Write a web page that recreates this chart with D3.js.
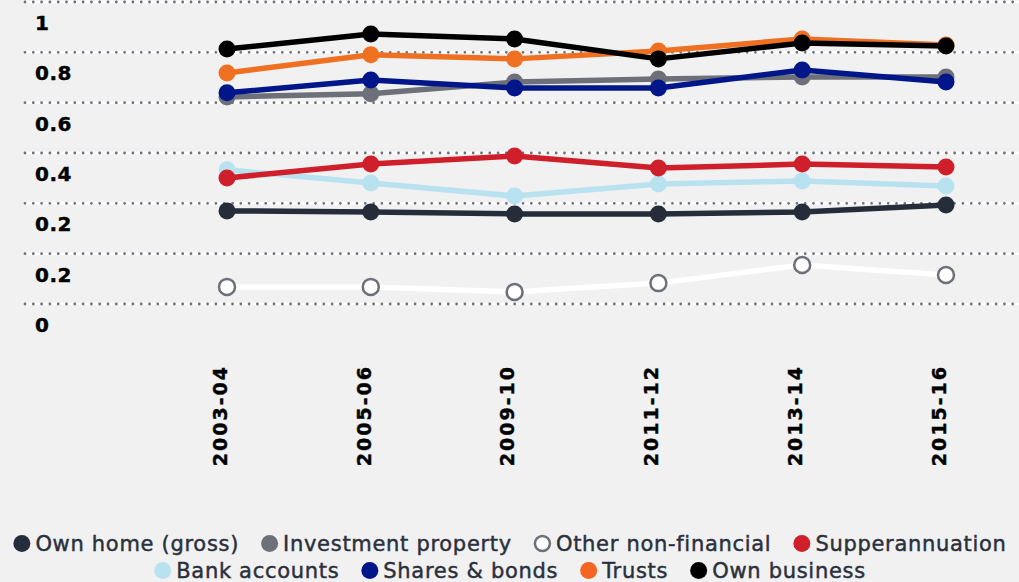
<!DOCTYPE html>
<html>
<head>
<meta charset="utf-8">
<script src="https://cdn.jsdelivr.net/npm/d3@7"></script>
<style>
  html, body { margin: 0; padding: 0; background: #f1f1f1; }
  svg { display: block; }
</style>
</head>
<body>
<script>
// periods on the x axis
var periods = ["2003-04", "2005-06", "2009-10", "2011-12", "2013-14", "2015-16"];

// gridline values and the labels printed under them (as in the original)
var gridValues = [0, 0.2, 0.4, 0.6, 0.8, 1.0, 1.2];
var gridLabels = ["0", "0.2", "0.2", "0.4", "0.6", "0.8", "1"];

// series values
var ownHome      = [0.370, 0.366, 0.358, 0.358, 0.366, 0.393];
var investProp   = [0.823, 0.835, 0.882, 0.894, 0.902, 0.902];
var otherNonFin  = [0.068, 0.068, 0.048, 0.083, 0.155, 0.115];
var superann     = [0.501, 0.556, 0.588, 0.540, 0.556, 0.544];
var bankAccounts = [0.533, 0.481, 0.429, 0.477, 0.489, 0.469];
var sharesBonds  = [0.839, 0.890, 0.858, 0.858, 0.930, 0.882];
var trusts       = [0.918, 0.990, 0.974, 1.005, 1.053, 1.029];
var ownBusiness  = [1.013, 1.073, 1.053, 0.974, 1.037, 1.025];

var series = [
  {name: "Own home (gross)",     values: ownHome,      color: "#252d3a"},
  {name: "Investment property",  values: investProp,   color: "#6d7079"},
  {name: "Other non-financial",  values: otherNonFin,  color: "#ffffff", hollow: true},
  {name: "Supperannuation",      values: superann,     color: "#cf1f2b"},
  {name: "Bank accounts",        values: bankAccounts, color: "#b8e2f0"},
  {name: "Shares & bonds",       values: sharesBonds,  color: "#001689"},
  {name: "Trusts",               values: trusts,       color: "#f07022"},
  {name: "Own business",         values: ownBusiness,  color: "#000000"}
];
// order the lines are painted in (later on top)
var drawOrder = ["Other non-financial", "Own home (gross)", "Bank accounts", "Supperannuation",
                 "Investment property", "Shares & bonds", "Trusts", "Own business"];

var W = 1019, H = 582;

var svg = d3.select("body").append("svg")
    .attr("width", W)
    .attr("height", H);

svg.append("rect").attr("width", W).attr("height", H).attr("fill", "#f1f1f1");

var x = d3.scalePoint().domain(periods).range([227, 946]);
var y = d3.scaleLinear().domain([0, 1.2]).range([304, 2]);

// dotted gridlines
var grid = svg.append("g").attr("class", "grid");
grid.selectAll(".gw").data(gridValues).enter().append("line")
    .attr("x1", 24).attr("x2", W)
    .attr("y1", d => y(d)).attr("y2", d => y(d))
    .attr("stroke", "#ffffff").attr("stroke-width", 2.5);
grid.selectAll(".gd").data(gridValues).enter().append("line")
    .attr("x1", 25).attr("x2", W)
    .attr("y1", d => y(d)).attr("y2", d => y(d))
    .attr("stroke", "#6d7079").attr("stroke-width", 2.8)
    .attr("stroke-linecap", "round")
    .attr("stroke-dasharray", "0 8.3");

// y labels sit under each gridline
svg.append("g").selectAll("text").data(gridValues).enter().append("text")
    .attr("x", 35)
    .attr("y", d => y(d) + 28)
    .attr("font-family", "DejaVu Sans")
    .attr("font-weight", "bold")
    .attr("font-size", 20)
    .attr("letter-spacing", 0.5)
    .attr("fill", "#000")
    .attr("stroke", "#000").attr("stroke-width", 0.4)
    .text((d, i) => gridLabels[i]);

// x labels, rotated
svg.append("g").selectAll("text").data(periods).enter().append("text")
    .attr("transform", d => "translate(" + (x(d) - 7) + ",365) rotate(-90)")
    .attr("text-anchor", "end")
    .attr("dy", "0.36em")
    .attr("font-family", "DejaVu Sans")
    .attr("font-weight", "bold")
    .attr("font-size", 19)
    .attr("letter-spacing", 2)
    .attr("fill", "#000")
    .attr("stroke", "#000").attr("stroke-width", 0.4)
    .text(d => d);

var line = d3.line()
    .x((d, i) => x(periods[i]))
    .y(d => y(d));

var byName = {};
series.forEach(s => byName[s.name] = s);

var lines = svg.append("g").selectAll("g")
    .data(drawOrder.map(n => byName[n]))
  .enter().append("g");

lines.append("path")
    .attr("d", s => line(s.values))
    .attr("fill", "none")
    .attr("stroke", s => s.color)
    .attr("stroke-width", 5.5)
    .attr("stroke-linejoin", "round");

lines.selectAll("circle")
    .data(s => s.values.map(v => ({v: v, s: s})))
  .enter().append("circle")
    .attr("cx", (d, i) => x(periods[i]))
    .attr("cy", d => y(d.v))
    .attr("r", d => d.s.hollow ? 8 : 8.5)
    .attr("fill", d => d.s.color)
    .attr("stroke", d => d.s.hollow ? "#6d7079" : "none")
    .attr("stroke-width", 2.5);

// legend, two centred rows
var legendRows = [series.slice(0, 4), series.slice(4)];
var rowY = [551, 578];
var centerX = 510;

legendRows.forEach(function(row, r) {
  var g = svg.append("g");
  var cursor = 0;
  row.forEach(function(s) {
    var item = g.append("g").attr("transform", "translate(" + cursor + ",0)");
    item.append("circle")
        .attr("cx", 8.5).attr("cy", rowY[r] - 7.5)
        .attr("r", s.hollow ? 7.5 : 8.5)
        .attr("fill", s.hollow ? "#ffffff" : (s.name == "Trusts" ? "#f26522" : s.color))
        .attr("stroke", s.hollow ? "#6d7079" : "none")
        .attr("stroke-width", 2.5);
    var t = item.append("text")
        .attr("x", 22)
        .attr("y", rowY[r])
        .attr("font-family", "DejaVu Sans")
        .attr("font-size", 21)
        .attr("letter-spacing", 0.7)
        .attr("fill", "#2a303c")
        .attr("stroke", "#2a303c").attr("stroke-width", 0.45)
        .text(s.name);
    cursor += 22 + t.node().getComputedTextLength() + 22;
  });
  var total = cursor - 22;
  g.attr("transform", "translate(" + (centerX - total / 2) + ",0)");
});
</script>
</body>
</html>
